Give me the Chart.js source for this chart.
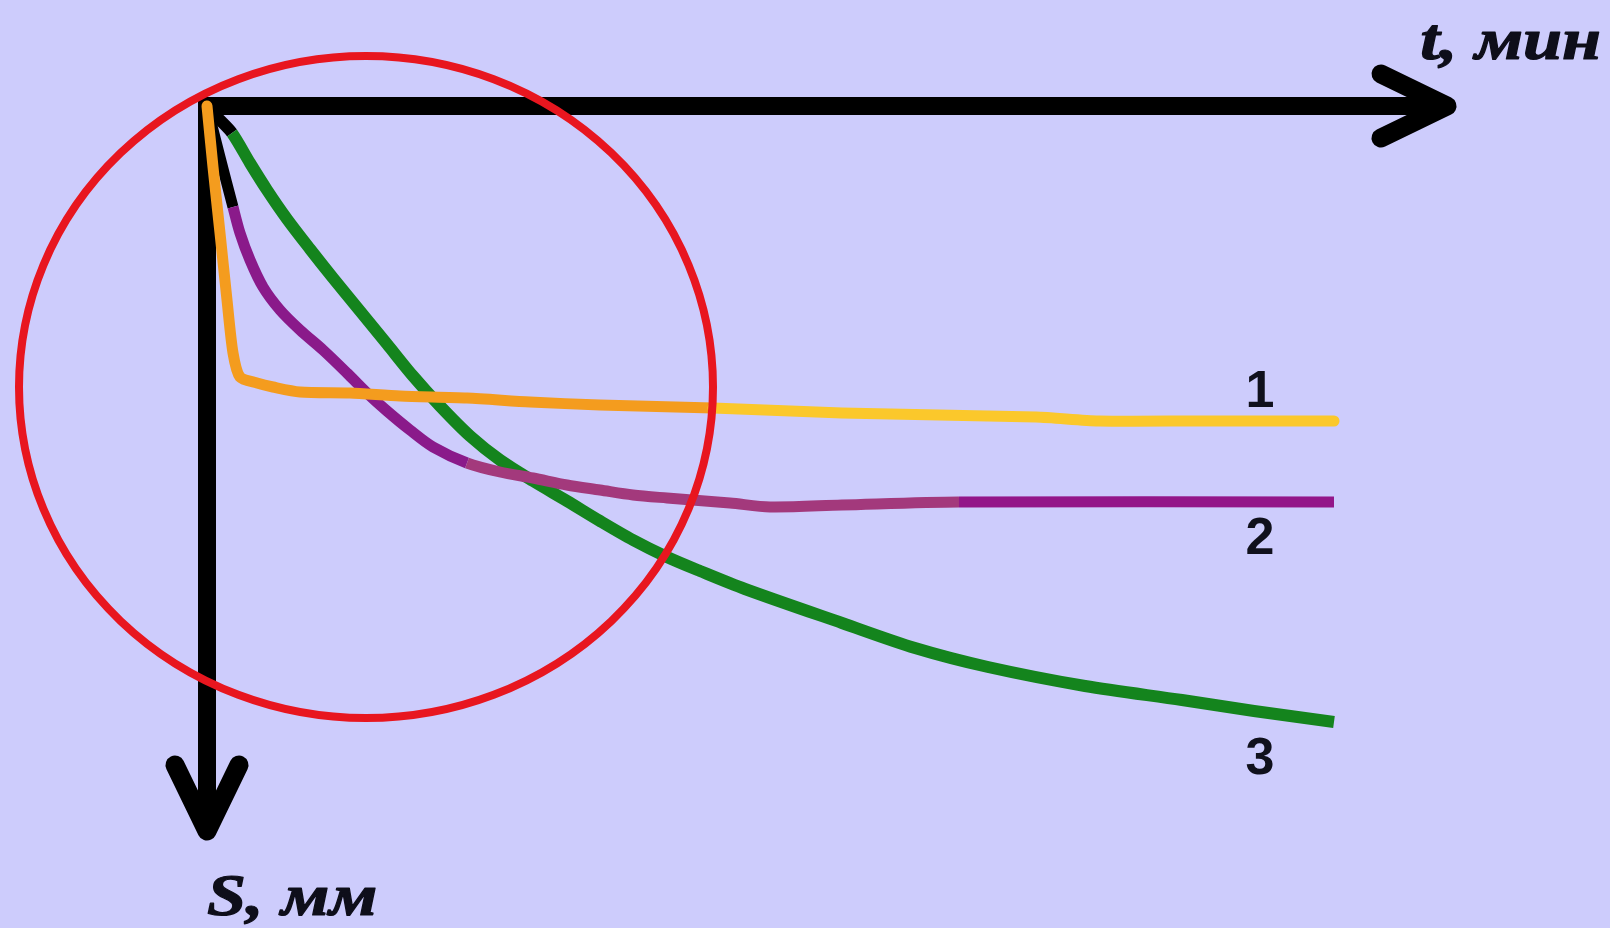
<!DOCTYPE html>
<html>
<head>
<meta charset="utf-8">
<script src="https://cdn.jsdelivr.net/npm/chart.js@4"></script>
<style>
  html, body { margin: 0; padding: 0; background: #cdccfc; }
  #wrap { width: 1610px; height: 928px; }
</style>
</head>
<body>
<div id="wrap"><canvas id="chart" width="1610" height="928"></canvas></div>
<script>
// t, мин -> S, мм (S grows downward)
const t1 = [0, 0.3, 0.65, 1.0, 1.3, 1.65, 2.5, 3.3, 4.65, 7.15, 9.65, 13.0, 16.15, 19.65, 25.3, 31.75, 41.45, 44.6, 49.65, 56.35];
const s1 = [0, 1.22, 2.54, 3.88, 4.94, 5.42, 5.54, 5.62, 5.72, 5.74, 5.8, 5.84, 5.92, 5.98, 6.04, 6.14, 6.22, 6.3, 6.3, 6.3];

const t2 = [0, 0.65, 1.3, 1.65, 2.15, 2.8, 3.65, 4.65, 5.8, 7.0, 8.0, 9.0, 10.15, 11.3, 13.0, 14.65, 16.3, 18.0, 19.65, 21.3, 23.0, 26.15, 28.15, 31.75, 37.6, 56.35];
const s2 = [0, 1.02, 2.02, 2.54, 3.08, 3.62, 4.08, 4.48, 4.88, 5.34, 5.74, 6.1, 6.48, 6.82, 7.14, 7.32, 7.44, 7.58, 7.68, 7.78, 7.84, 7.94, 8.02, 7.98, 7.92, 7.92];

const t3 = [0, 0.55, 1.25, 2.15, 3.0, 4.0, 5.15, 6.3, 7.65, 9.0, 10.3, 11.65, 13.15, 14.65, 16.3, 18.0, 19.65, 21.3, 23.0, 24.65, 26.9, 31.75, 35.4, 39.05, 43.9, 48.75, 52.35, 56.35];
const s3 = [0, 0.24, 0.54, 1.14, 1.68, 2.26, 2.86, 3.44, 4.1, 4.76, 5.4, 6.0, 6.6, 7.08, 7.5, 7.9, 8.3, 8.68, 9.02, 9.3, 9.66, 10.34, 10.84, 11.22, 11.6, 11.88, 12.1, 12.32];

const curveNames = ['1', '2', '3'];
const axisTitles = ['t, мин', 'S, мм'];

// axis extents and the highlighted zone (data units)
const axisEndT = 62.0;
const axisEndS = 14.5;
const zoneCenter = { t: 7.95, s: 5.62 };
const zoneRadius = { t: 17.35, s: 6.62 };

const pts = (ts, ss) => ts.map((t, i) => ({ x: t, y: ss[i] }));

// colour changes along each curve (by t)
function colorBy(stops) {
  return ctx => {
    const t = ctx.p0.parsed.x;
    for (const [limit, c] of stops) if (t < limit) return c;
    return stops[stops.length - 1][1];
  };
}

function stretchedText(ctx, text, x, y, align) {
  const sx = 1.17;
  ctx.save();
  ctx.translate(x, y);
  ctx.scale(sx, 1);
  ctx.textAlign = align;
  ctx.fillText(text, 0, 0);
  ctx.strokeText(text, 0, 0);
  ctx.restore();
}

const axesPlugin = {
  id: 'axes',
  beforeDatasetsDraw(chart) {
    const { ctx, scales: { x, y } } = chart;
    const x0 = x.getPixelForValue(0), y0 = y.getPixelForValue(0);
    const xe = x.getPixelForValue(axisEndT), ye = y.getPixelForValue(axisEndS);
    ctx.save();
    ctx.strokeStyle = '#000';
    ctx.lineWidth = 18;
    ctx.lineCap = 'butt';
    ctx.beginPath();
    ctx.moveTo(x0 - 9, y0);
    ctx.lineTo(xe - 4, y0);
    ctx.moveTo(x0, y0 - 9);
    ctx.lineTo(x0, ye - 4);
    ctx.stroke();
    // arrow heads
    ctx.lineCap = 'round';
    ctx.lineJoin = 'round';
    ctx.lineWidth = 19;
    ctx.beginPath();
    ctx.moveTo(xe - 66, y0 - 32);
    ctx.lineTo(xe, y0);
    ctx.lineTo(xe - 66, y0 + 32);
    ctx.moveTo(x0 - 32, ye - 66);
    ctx.lineTo(x0, ye);
    ctx.lineTo(x0 + 32, ye - 66);
    ctx.stroke();

    ctx.fillStyle = '#0e0e1a';
    ctx.strokeStyle = '#0e0e1a';
    ctx.lineWidth = 1.2;
    ctx.font = 'italic bold 60px "Liberation Serif"';
    ctx.textBaseline = 'alphabetic';
    stretchedText(ctx, axisTitles[0], xe + 154, y0 - 47, 'right');
    stretchedText(ctx, axisTitles[1], x0 + 0, ye + 84, 'left');
    ctx.restore();
  },
  afterDatasetsDraw(chart) {
    const { ctx, scales: { x, y } } = chart;
    const cx = x.getPixelForValue(zoneCenter.t), cy = y.getPixelForValue(zoneCenter.s);
    const rx = x.getPixelForValue(zoneCenter.t + zoneRadius.t) - cx;
    const ry = y.getPixelForValue(zoneCenter.s + zoneRadius.s) - cy;
    ctx.save();
    ctx.strokeStyle = '#e8161f';
    ctx.lineWidth = 8;
    ctx.beginPath();
    ctx.ellipse(cx, cy, rx, ry, 0, 0, Math.PI * 2);
    ctx.stroke();

    // curve numbers next to the line ends
    ctx.fillStyle = '#10101c';
    ctx.font = 'bold 52px "Liberation Sans"';
    ctx.textAlign = 'center';
    chart.data.datasets.forEach((ds, i) => {
      const last = ds.data[ds.data.length - 1];
      const px = x.getPixelForValue(last.x) - 74;
      const py = y.getPixelForValue(last.y);
      if (i === 0) {
        ctx.textBaseline = 'bottom';
        ctx.fillText(curveNames[i], px, py - 2);
      } else {
        ctx.textBaseline = 'top';
        ctx.fillText(curveNames[i], px, py + 12);
      }
    });
    ctx.restore();
  }
};

new Chart(document.getElementById('chart'), {
  type: 'scatter',
  data: {
    datasets: [
      {
        data: pts(t1, s1),
        showLine: true,
        borderWidth: 11,
        borderCapStyle: 'round',
        borderJoinStyle: 'round',
        tension: 0.25,
        segment: { borderColor: colorBy([[25.3, '#f49c1e'], [999, '#fbc82b']]) }
      },
      {
        data: pts(t2, s2),
        showLine: true,
        borderWidth: 11,
        borderCapStyle: 'butt',
        tension: 0.3,
        segment: { borderColor: colorBy([[1.3, '#000000'], [12.5, '#8a1a8a'], [37.6, '#a3397c'], [999, '#931689']]) }
      },
      {
        data: pts(t3, s3),
        showLine: true,
        borderWidth: 12,
        borderCapStyle: 'butt',
        tension: 0.3,
        segment: { borderColor: colorBy([[1.25, '#000000'], [999, '#14841d']]) }
      }
    ]
  },
  options: {
    responsive: false,
    animation: false,
    events: [],
    layout: { padding: 0 },
    elements: { point: { radius: 0 } },
    plugins: { legend: { display: false }, tooltip: { enabled: false } },
    scales: {
      x: { type: 'linear', display: false, min: -10.35, max: 70.15 },
      y: { type: 'linear', display: false, reverse: true, min: -2.12, max: 16.44 }
    }
  },
  plugins: [axesPlugin]
});
</script>
</body>
</html>
